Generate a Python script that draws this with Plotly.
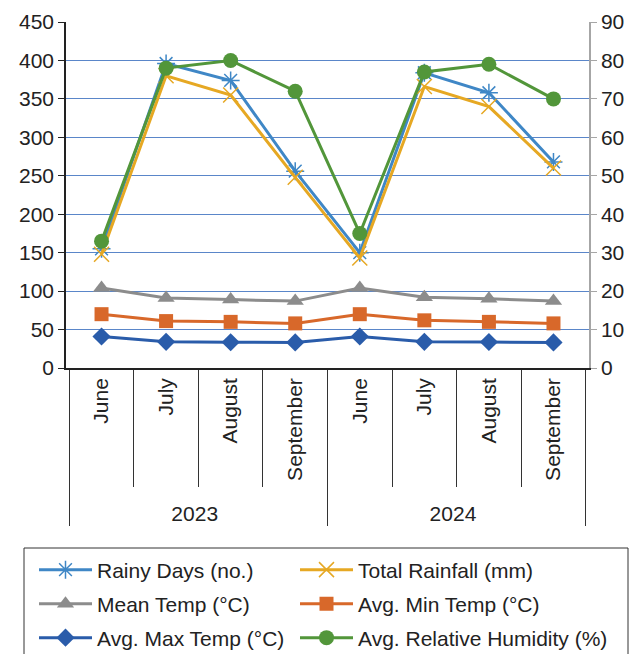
import plotly.graph_objects as go

years = ["2023"] * 4 + ["2024"] * 4
months = ["June", "July", "August", "September"] * 2

rainy_days = [155, 396, 374, 256, 150, 384, 358, 268]
total_rainfall = [148, 380, 355, 248, 143, 366, 340, 260]
mean_temp = [104, 91, 89, 87, 104, 92, 90, 87]
min_temp = [70, 61, 60, 58, 70, 62, 60, 58]
max_temp = [41, 34, 33.5, 33.3, 41, 34, 33.8, 33.3]
humidity = [33, 78, 80, 72, 35, 77, 79, 70]

FONT = "Liberation Sans, Arial, sans-serif"
FS = 21
x = [years, months]

OFF = 8  # page body margin
W, H = 638 - OFF, 654 - OFF
L, R, T, B = 66 - OFF, 49, 22 - OFF, 286
PW, PH = W - L - R, H - T - B

def px_x(p):
    return (p - OFF - L) / PW

def px_y(p):
    return (H - B - (p - OFF)) / PH

fig = go.Figure()
legends = {}

def leg(xleft, ycenter):
    return dict(
        orientation="h", x=px_x(xleft), y=px_y(ycenter), xanchor="left", yanchor="middle",
        itemwidth=53, bgcolor="rgba(0,0,0,0)", borderwidth=0,
        font=dict(family=FONT, size=FS, color="#222222"),
    )

def add(name, y, color, symbol, size, idx, lx, ly, yaxis="y", mline=0):
    lname = "legend" if idx == 1 else f"legend{idx}"
    legends[lname] = leg(lx, ly)
    fig.add_trace(go.Scatter(
        x=x, y=y, name=name, mode="lines+markers", yaxis=yaxis, legend=lname,
        line=dict(color=color, width=3),
        marker=dict(symbol=symbol, size=size, color=color,
                    line=dict(width=mline, color=color)),
    ))

C1, C2 = 34, 295
R1, R2, R3 = 570, 604, 638
add("Rainy Days (no.)", rainy_days, "#3F87C6", "asterisk-open", 15, 1, C1, R1, mline=1.5)
add("Total Rainfall (mm)", total_rainfall, "#E6A823", "x-thin-open", 15, 2, C2, R1, mline=1.5)
add("Mean Temp (°C)", mean_temp, "#8C8C8C", "triangle-up", 15, 3, C1, R2)
add("Avg. Min Temp (°C)", min_temp, "#D8682A", "square", 14, 4, C2, R2)
add("Avg. Max Temp (°C)", max_temp, "#2A5CAA", "diamond", 14, 5, C1, R3)
add("Avg. Relative Humidity (%)", humidity, "#52963A", "circle", 15, 6, C2, R3, yaxis="y2")

fig.update_layout(
    width=W, height=H,
    margin=dict(l=L, r=R, t=T, b=B, autoexpand=False),
    paper_bgcolor="white", plot_bgcolor="white",
    font=dict(family=FONT, size=FS, color="#222222"),
    showlegend=True,
    shapes=[dict(type="rect", xref="paper", yref="paper",
                 x0=px_x(24), x1=px_x(628), y0=px_y(548), y1=px_y(700),
                 line=dict(color="#333333", width=1), fillcolor="rgba(0,0,0,0)")],
    xaxis=dict(
        type="multicategory", showline=True, linecolor="#222222", linewidth=1.5,
        ticks="outside", tickson="boundaries", ticklen=117, tickcolor="#333333",
        tickwidth=1, tickangle=-90, showdividers=True, dividercolor="#333333",
        dividerwidth=1, showgrid=False, automargin=False, tickfont=dict(size=FS),
    ),
    yaxis=dict(
        range=[0, 450], dtick=50, showline=True, linecolor="#222222", linewidth=1.5,
        ticks="outside", ticklen=6, tickcolor="#222222", automargin=False,
        showgrid=True, gridcolor="#5A86C9", gridwidth=1, zeroline=False,
        tickfont=dict(size=FS),
    ),
    yaxis2=dict(
        range=[0, 90], dtick=10, overlaying="y", side="right",
        showline=True, linecolor="#A6A6A6", linewidth=1.5, automargin=False,
        ticks="outside", ticklen=6, tickcolor="#A6A6A6",
        showgrid=False, zeroline=False, tickfont=dict(size=FS),
    ),
    **legends,
)

fig.write_html("out.html")
